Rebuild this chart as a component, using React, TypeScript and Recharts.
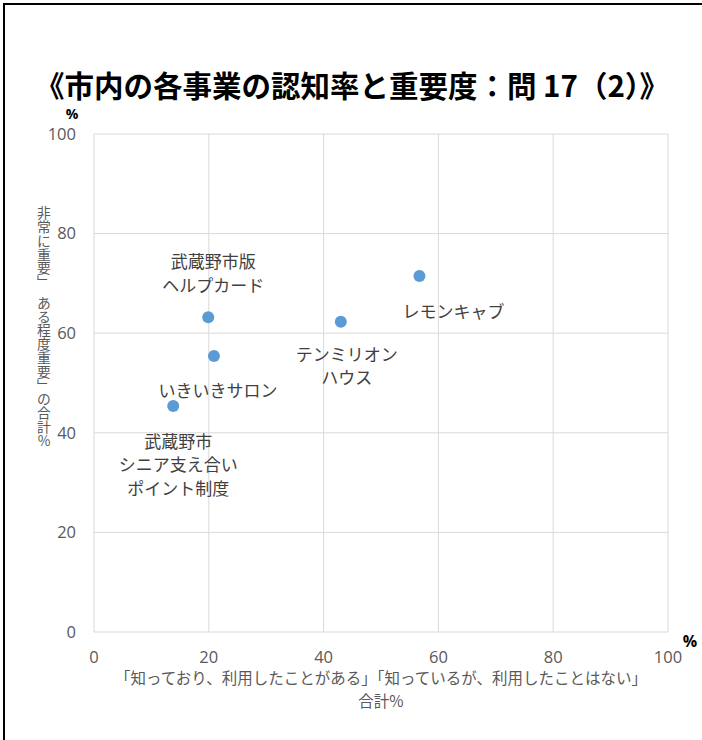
import React from 'react';
import { ScatterChart, Scatter, XAxis, YAxis, CartesianGrid } from 'recharts';

// ---- data ----
const labelLines: string[][] = [
  ['武蔵野市版', 'ヘルプカード'],
  ['いきいきサロン'],
  ['武蔵野市', 'シニア支え合い', 'ポイント制度'],
  ['テンミリオン', 'ハウス'],
  ['レモンキャブ'],
];
const awareness = [19.9, 20.9, 13.8, 43.0, 56.7];
const importance = [63.2, 55.4, 45.4, 62.3, 71.5];
const xTicks = [0, 20, 40, 60, 80, 100];
const yTicks = [0, 20, 40, 60, 80, 100];

const titleText = '《市内の各事業の認知率と重要度：問 17（2）》';
const xTitleLines = ['「知っており、利用したことがある」「知っているが、利用したことはない」', '合計%'];
const yTitleText = '非常に重要」\u3000ある程度重要」の合計%';
const unitMark = '%';

// ---- styles (not data) ----
const labelOffsets = [
  { dx: 5, dy: -57 },
  { dx: 4, dy: 33 },
  { dx: 5, dy: 34 },
  { dx: 6, dy: 31 },
  { dx: 34, dy: 34 },
];
const FONT = '"Noto Sans CJK JP", "Noto Sans", sans-serif';
const TICK_FONT = '"Open Sans", "Noto Sans", sans-serif';
const POINT_COLOR = '#5B9BD5';

const data = awareness.map((x, i) => ({ x, y: importance[i], idx: i }));

const PointShape = (props: any) => {
  const { cx, cy, payload } = props;
  const i = payload.idx;
  const off = labelOffsets[i];
  const lines = labelLines[i];
  return (
    <g>
      <circle cx={cx} cy={cy} r={6} fill={POINT_COLOR} />
      <text
        x={cx + off.dx}
        y={cy + off.dy}
        textAnchor="middle"
        dominantBaseline="central"
        fontSize={17}
        fontFamily={FONT}
        fill="#404040"
      >
        {lines.map((l, k) => (
          <tspan key={k} x={cx + off.dx} dy={k === 0 ? 0 : 23.5}>
            {l}
          </tspan>
        ))}
      </text>
    </g>
  );
};

export default function App() {
  return (
    <div style={{ position: 'absolute', left: 0, top: 0, width: 702, height: 740, overflow: 'hidden', background: '#fff' }}>
      <div
        style={{
          position: 'absolute',
          left: 3,
          top: 3,
          width: 740,
          height: 780,
          border: '2px solid #000',
          boxSizing: 'border-box',
        }}
      />
      <div style={{ position: 'absolute', left: 0, top: 0 }}>
        <ScatterChart width={702} height={740} margin={{ top: 134, right: 34, bottom: 78, left: 34 }}>
          <CartesianGrid stroke="#D9D9D9" strokeWidth={1} />
          <XAxis
            type="number"
            dataKey="x"
            domain={[0, 100]}
            ticks={xTicks}
            axisLine={false}
            tickLine={false}
            tickSize={6}
            tickMargin={13}
            height={30}
            tick={{ fill: '#595959', fontSize: 16.5, fontFamily: TICK_FONT }}
          />
          <YAxis
            type="number"
            dataKey="y"
            domain={[0, 100]}
            ticks={yTicks}
            axisLine={false}
            tickLine={false}
            tickSize={6}
            tickMargin={12}
            width={60}
            tick={{ fill: '#595959', fontSize: 16.5, fontFamily: TICK_FONT }}
          />
          <Scatter data={data} isAnimationActive={false} shape={PointShape} />
        </ScatterChart>
      </div>
      <svg
        width={702}
        height={740}
        style={{ position: 'absolute', left: 0, top: 0, pointerEvents: 'none' }}
      >
        <text
          x={352}
          y={84}
          textAnchor="middle"
          dominantBaseline="central"
          fontSize={29.5}
          fontWeight="bold"
          fontFamily={FONT}
          fill="#000"
        >
          {titleText}
        </text>
        <text x={72} y={113.5} textAnchor="middle" dominantBaseline="central" fontSize={14} fontWeight="bold" fontFamily={TICK_FONT} fill="#000">
          {unitMark}
        </text>
        <text x={690} y={641} textAnchor="middle" dominantBaseline="central" fontSize={16} fontWeight="bold" fontFamily={TICK_FONT} fill="#000">
          {unitMark}
        </text>
        <text
          x={381}
          y={677}
          textAnchor="middle"
          dominantBaseline="central"
          fontSize={15.5}
          fontFamily={FONT}
          fill="#595959"
        >
          {xTitleLines.map((l, k) => (
            <tspan key={k} x={381} dy={k === 0 ? 0 : 23}>
              {l}
            </tspan>
          ))}
        </text>
        <text
          x={44}
          y={206}
          fontSize={13.8}
          fontFamily={FONT}
          fill="#595959"
          style={{ writingMode: 'vertical-rl', textOrientation: 'upright', fontFeatureSettings: '"vert" 0, "vrt2" 0' } as any}
        >
          {yTitleText}
        </text>
      </svg>
    </div>
  );
}
